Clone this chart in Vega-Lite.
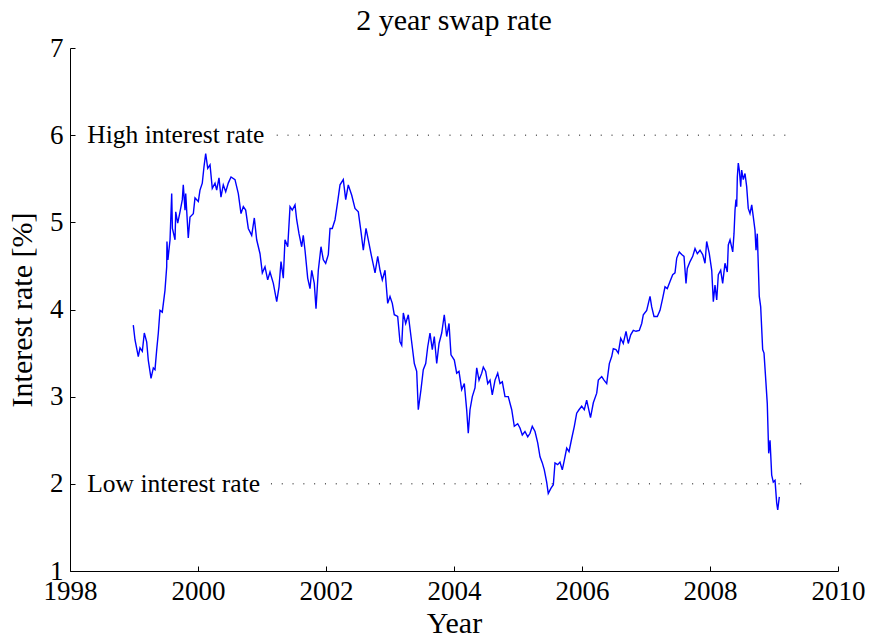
{
  "$schema": "https://vega.github.io/schema/vega-lite/v6.json",
  "width": 768,
  "height": 523,
  "autosize": {"type": "none"},
  "padding": {"left": 70, "top": 48, "right": 32, "bottom": 68},
  "background": "white",
  "config": {
    "view": {"stroke": null},
    "font": "Liberation Serif",
    "axis": {
      "domainColor": "#000",
      "domainWidth": 1,
      "tickColor": "#000",
      "tickWidth": 1,
      "grid": false,
      "labelFont": "Liberation Serif",
      "labelFontSize": 27,
      "labelColor": "#000",
      "titleFont": "Liberation Serif",
      "titleFontSize": 30,
      "titleFontWeight": "normal",
      "titleColor": "#000"
    }
  },
  "title": {
    "text": "2 year swap rate",
    "font": "Liberation Serif",
    "fontSize": 30,
    "fontWeight": "normal",
    "color": "#000",
    "anchor": "middle",
    "offset": -2
  },
  "datasets": {
    "swap": [
      {"year": 1998.989, "rate": 3.82}, {"year": 1999.016, "rate": 3.65}, {"year": 1999.067, "rate": 3.46},
      {"year": 1999.094, "rate": 3.56}, {"year": 1999.130, "rate": 3.52}, {"year": 1999.161, "rate": 3.73},
      {"year": 1999.198, "rate": 3.63}, {"year": 1999.223, "rate": 3.42}, {"year": 1999.266, "rate": 3.21},
      {"year": 1999.302, "rate": 3.33}, {"year": 1999.328, "rate": 3.31}, {"year": 1999.355, "rate": 3.54},
      {"year": 1999.380, "rate": 3.73}, {"year": 1999.406, "rate": 3.99}, {"year": 1999.442, "rate": 3.97},
      {"year": 1999.484, "rate": 4.22}, {"year": 1999.511, "rate": 4.49}, {"year": 1999.515, "rate": 4.78},
      {"year": 1999.530, "rate": 4.57}, {"year": 1999.563, "rate": 4.80}, {"year": 1999.589, "rate": 5.33},
      {"year": 1999.600, "rate": 4.93}, {"year": 1999.641, "rate": 4.80}, {"year": 1999.652, "rate": 5.12},
      {"year": 1999.683, "rate": 4.99}, {"year": 1999.719, "rate": 5.12}, {"year": 1999.755, "rate": 5.26},
      {"year": 1999.770, "rate": 5.43}, {"year": 1999.797, "rate": 5.14}, {"year": 1999.808, "rate": 5.33},
      {"year": 1999.848, "rate": 4.82}, {"year": 1999.875, "rate": 5.06}, {"year": 1999.927, "rate": 5.10},
      {"year": 1999.953, "rate": 5.28}, {"year": 2000.005, "rate": 5.24}, {"year": 2000.031, "rate": 5.37},
      {"year": 2000.067, "rate": 5.45}, {"year": 2000.094, "rate": 5.64}, {"year": 2000.120, "rate": 5.79},
      {"year": 2000.152, "rate": 5.62}, {"year": 2000.188, "rate": 5.66}, {"year": 2000.223, "rate": 5.39},
      {"year": 2000.266, "rate": 5.45}, {"year": 2000.292, "rate": 5.37}, {"year": 2000.328, "rate": 5.51},
      {"year": 2000.359, "rate": 5.29}, {"year": 2000.395, "rate": 5.43}, {"year": 2000.433, "rate": 5.35},
      {"year": 2000.473, "rate": 5.45}, {"year": 2000.516, "rate": 5.52}, {"year": 2000.578, "rate": 5.49},
      {"year": 2000.630, "rate": 5.33}, {"year": 2000.672, "rate": 5.10}, {"year": 2000.708, "rate": 5.18},
      {"year": 2000.745, "rate": 5.14}, {"year": 2000.786, "rate": 4.93}, {"year": 2000.839, "rate": 4.85},
      {"year": 2000.880, "rate": 5.05}, {"year": 2000.917, "rate": 4.80}, {"year": 2000.969, "rate": 4.64},
      {"year": 2001.005, "rate": 4.42}, {"year": 2001.047, "rate": 4.49}, {"year": 2001.089, "rate": 4.34},
      {"year": 2001.125, "rate": 4.43}, {"year": 2001.177, "rate": 4.30}, {"year": 2001.230, "rate": 4.09},
      {"year": 2001.266, "rate": 4.26}, {"year": 2001.297, "rate": 4.55}, {"year": 2001.333, "rate": 4.36},
      {"year": 2001.359, "rate": 4.80}, {"year": 2001.402, "rate": 4.72}, {"year": 2001.438, "rate": 5.18},
      {"year": 2001.473, "rate": 5.14}, {"year": 2001.516, "rate": 5.20}, {"year": 2001.542, "rate": 5.03},
      {"year": 2001.578, "rate": 4.87}, {"year": 2001.620, "rate": 4.72}, {"year": 2001.645, "rate": 4.85},
      {"year": 2001.672, "rate": 4.68}, {"year": 2001.714, "rate": 4.36}, {"year": 2001.750, "rate": 4.24},
      {"year": 2001.777, "rate": 4.45}, {"year": 2001.817, "rate": 4.30}, {"year": 2001.844, "rate": 4.01},
      {"year": 2001.880, "rate": 4.45}, {"year": 2001.922, "rate": 4.72}, {"year": 2001.958, "rate": 4.57},
      {"year": 2001.995, "rate": 4.53}, {"year": 2002.036, "rate": 4.63}, {"year": 2002.063, "rate": 4.93},
      {"year": 2002.098, "rate": 4.93}, {"year": 2002.141, "rate": 5.03}, {"year": 2002.183, "rate": 5.24},
      {"year": 2002.219, "rate": 5.43}, {"year": 2002.270, "rate": 5.49}, {"year": 2002.308, "rate": 5.26},
      {"year": 2002.348, "rate": 5.43}, {"year": 2002.402, "rate": 5.31}, {"year": 2002.453, "rate": 5.16},
      {"year": 2002.505, "rate": 5.12}, {"year": 2002.547, "rate": 4.89}, {"year": 2002.583, "rate": 4.68},
      {"year": 2002.625, "rate": 4.93}, {"year": 2002.661, "rate": 4.80}, {"year": 2002.703, "rate": 4.64},
      {"year": 2002.766, "rate": 4.42}, {"year": 2002.808, "rate": 4.61}, {"year": 2002.844, "rate": 4.45},
      {"year": 2002.880, "rate": 4.34}, {"year": 2002.922, "rate": 4.45}, {"year": 2002.964, "rate": 4.07},
      {"year": 2003.000, "rate": 4.15}, {"year": 2003.036, "rate": 4.07}, {"year": 2003.067, "rate": 3.94},
      {"year": 2003.120, "rate": 3.92}, {"year": 2003.156, "rate": 3.63}, {"year": 2003.183, "rate": 3.59},
      {"year": 2003.208, "rate": 3.96}, {"year": 2003.245, "rate": 3.84}, {"year": 2003.286, "rate": 3.94},
      {"year": 2003.328, "rate": 3.69}, {"year": 2003.380, "rate": 3.38}, {"year": 2003.417, "rate": 3.29},
      {"year": 2003.442, "rate": 2.85}, {"year": 2003.484, "rate": 3.08}, {"year": 2003.520, "rate": 3.31},
      {"year": 2003.558, "rate": 3.38}, {"year": 2003.589, "rate": 3.57}, {"year": 2003.625, "rate": 3.73},
      {"year": 2003.661, "rate": 3.54}, {"year": 2003.692, "rate": 3.69}, {"year": 2003.730, "rate": 3.38},
      {"year": 2003.766, "rate": 3.61}, {"year": 2003.808, "rate": 3.73}, {"year": 2003.848, "rate": 3.94},
      {"year": 2003.886, "rate": 3.69}, {"year": 2003.922, "rate": 3.84}, {"year": 2003.953, "rate": 3.48},
      {"year": 2004.005, "rate": 3.42}, {"year": 2004.042, "rate": 3.27}, {"year": 2004.078, "rate": 3.29},
      {"year": 2004.120, "rate": 3.08}, {"year": 2004.161, "rate": 3.15}, {"year": 2004.198, "rate": 2.85},
      {"year": 2004.223, "rate": 2.58}, {"year": 2004.250, "rate": 2.85}, {"year": 2004.286, "rate": 3.00},
      {"year": 2004.328, "rate": 3.10}, {"year": 2004.355, "rate": 3.33}, {"year": 2004.391, "rate": 3.19},
      {"year": 2004.433, "rate": 3.27}, {"year": 2004.458, "rate": 3.34}, {"year": 2004.495, "rate": 3.29},
      {"year": 2004.527, "rate": 3.15}, {"year": 2004.563, "rate": 3.19}, {"year": 2004.598, "rate": 3.02},
      {"year": 2004.641, "rate": 3.19}, {"year": 2004.683, "rate": 3.27}, {"year": 2004.719, "rate": 3.15},
      {"year": 2004.755, "rate": 3.17}, {"year": 2004.797, "rate": 3.00}, {"year": 2004.848, "rate": 3.00},
      {"year": 2004.902, "rate": 2.85}, {"year": 2004.942, "rate": 2.66}, {"year": 2004.995, "rate": 2.69},
      {"year": 2005.031, "rate": 2.64}, {"year": 2005.067, "rate": 2.56}, {"year": 2005.109, "rate": 2.60},
      {"year": 2005.152, "rate": 2.54}, {"year": 2005.188, "rate": 2.58}, {"year": 2005.223, "rate": 2.66},
      {"year": 2005.266, "rate": 2.60}, {"year": 2005.308, "rate": 2.47}, {"year": 2005.344, "rate": 2.31},
      {"year": 2005.380, "rate": 2.24}, {"year": 2005.411, "rate": 2.16}, {"year": 2005.448, "rate": 2.02},
      {"year": 2005.473, "rate": 1.89}, {"year": 2005.516, "rate": 1.95}, {"year": 2005.552, "rate": 1.99},
      {"year": 2005.578, "rate": 2.24}, {"year": 2005.620, "rate": 2.22}, {"year": 2005.656, "rate": 2.25},
      {"year": 2005.692, "rate": 2.16}, {"year": 2005.723, "rate": 2.27}, {"year": 2005.761, "rate": 2.41},
      {"year": 2005.797, "rate": 2.37}, {"year": 2005.839, "rate": 2.52}, {"year": 2005.880, "rate": 2.66},
      {"year": 2005.917, "rate": 2.81}, {"year": 2005.953, "rate": 2.85}, {"year": 2005.995, "rate": 2.89},
      {"year": 2006.036, "rate": 2.85}, {"year": 2006.073, "rate": 2.96}, {"year": 2006.133, "rate": 2.76},
      {"year": 2006.177, "rate": 2.93}, {"year": 2006.230, "rate": 3.04}, {"year": 2006.255, "rate": 3.19},
      {"year": 2006.308, "rate": 3.23}, {"year": 2006.344, "rate": 3.19}, {"year": 2006.386, "rate": 3.15},
      {"year": 2006.427, "rate": 3.38}, {"year": 2006.464, "rate": 3.46}, {"year": 2006.489, "rate": 3.55},
      {"year": 2006.531, "rate": 3.54}, {"year": 2006.567, "rate": 3.50}, {"year": 2006.605, "rate": 3.67},
      {"year": 2006.645, "rate": 3.61}, {"year": 2006.688, "rate": 3.75}, {"year": 2006.723, "rate": 3.61},
      {"year": 2006.761, "rate": 3.71}, {"year": 2006.802, "rate": 3.76}, {"year": 2006.844, "rate": 3.75},
      {"year": 2006.895, "rate": 3.76}, {"year": 2006.933, "rate": 3.84}, {"year": 2006.958, "rate": 3.94},
      {"year": 2007.011, "rate": 3.99}, {"year": 2007.063, "rate": 4.15}, {"year": 2007.089, "rate": 4.03},
      {"year": 2007.125, "rate": 3.92}, {"year": 2007.177, "rate": 3.92}, {"year": 2007.219, "rate": 3.99},
      {"year": 2007.261, "rate": 4.13}, {"year": 2007.297, "rate": 4.26}, {"year": 2007.333, "rate": 4.24},
      {"year": 2007.375, "rate": 4.32}, {"year": 2007.417, "rate": 4.40}, {"year": 2007.453, "rate": 4.42},
      {"year": 2007.480, "rate": 4.59}, {"year": 2007.520, "rate": 4.66}, {"year": 2007.558, "rate": 4.63},
      {"year": 2007.594, "rate": 4.61}, {"year": 2007.625, "rate": 4.30}, {"year": 2007.645, "rate": 4.47},
      {"year": 2007.688, "rate": 4.55}, {"year": 2007.730, "rate": 4.61}, {"year": 2007.766, "rate": 4.70},
      {"year": 2007.802, "rate": 4.64}, {"year": 2007.844, "rate": 4.68}, {"year": 2007.886, "rate": 4.63},
      {"year": 2007.922, "rate": 4.53}, {"year": 2007.948, "rate": 4.78}, {"year": 2007.989, "rate": 4.64},
      {"year": 2008.027, "rate": 4.45}, {"year": 2008.052, "rate": 4.09}, {"year": 2008.078, "rate": 4.28},
      {"year": 2008.105, "rate": 4.11}, {"year": 2008.130, "rate": 4.40}, {"year": 2008.167, "rate": 4.45},
      {"year": 2008.198, "rate": 4.30}, {"year": 2008.234, "rate": 4.53}, {"year": 2008.270, "rate": 4.43},
      {"year": 2008.286, "rate": 4.74}, {"year": 2008.313, "rate": 4.80}, {"year": 2008.355, "rate": 4.66},
      {"year": 2008.375, "rate": 4.87}, {"year": 2008.391, "rate": 5.14}, {"year": 2008.406, "rate": 5.26},
      {"year": 2008.417, "rate": 5.18}, {"year": 2008.427, "rate": 5.52}, {"year": 2008.442, "rate": 5.68},
      {"year": 2008.458, "rate": 5.60}, {"year": 2008.480, "rate": 5.41}, {"year": 2008.495, "rate": 5.60},
      {"year": 2008.520, "rate": 5.49}, {"year": 2008.547, "rate": 5.56}, {"year": 2008.573, "rate": 5.41},
      {"year": 2008.598, "rate": 5.16}, {"year": 2008.625, "rate": 5.10}, {"year": 2008.652, "rate": 5.20},
      {"year": 2008.677, "rate": 5.06}, {"year": 2008.703, "rate": 4.91}, {"year": 2008.719, "rate": 4.68},
      {"year": 2008.739, "rate": 4.87}, {"year": 2008.770, "rate": 4.15}, {"year": 2008.792, "rate": 4.03},
      {"year": 2008.823, "rate": 3.54}, {"year": 2008.844, "rate": 3.50}, {"year": 2008.875, "rate": 3.15},
      {"year": 2008.895, "rate": 2.92}, {"year": 2008.917, "rate": 2.35}, {"year": 2008.938, "rate": 2.50},
      {"year": 2008.964, "rate": 2.10}, {"year": 2008.989, "rate": 2.02}, {"year": 2009.016, "rate": 2.04},
      {"year": 2009.042, "rate": 1.78}, {"year": 2009.058, "rate": 1.70}, {"year": 2009.083, "rate": 1.85}
    ],
    "levels": [
      {"label": "High interest rate", "rate": 6, "start": 2001.23, "end": 2009.27, "labelYear": 1998.27},
      {"label": "Low interest rate", "rate": 2, "start": 2001.14, "end": 2009.5, "labelYear": 1998.27}
    ]
  },
  "layer": [
    {
      "data": {"name": "levels"},
      "mark": {"type": "rule", "color": "#000", "strokeWidth": 1, "strokeDash": [1, 9.8]},
      "encoding": {
        "x": {"field": "start", "type": "quantitative", "scale": {"domain": [1998, 2010], "nice": false, "zero": false}},
        "x2": {"field": "end"},
        "y": {"field": "rate", "type": "quantitative", "scale": {"domain": [1, 7], "nice": false, "zero": false}}
      }
    },
    {
      "data": {"name": "levels"},
      "mark": {"type": "text", "align": "left", "baseline": "middle", "font": "Liberation Serif", "fontSize": 25.5, "color": "#000"},
      "encoding": {
        "x": {"field": "labelYear", "type": "quantitative"},
        "y": {"field": "rate", "type": "quantitative"},
        "text": {"field": "label"}
      }
    },
    {
      "data": {"name": "swap"},
      "mark": {"type": "line", "color": "#0000ff", "strokeWidth": 1.4, "interpolate": "linear"},
      "encoding": {
        "x": {
          "field": "year", "type": "quantitative",
          "axis": {"title": "Year", "values": [1998, 2000, 2002, 2004, 2006, 2008, 2010], "format": "d", "tickSize": -5, "labelPadding": 12, "titlePadding": 4, "labelFlush": false, "labelOverlap": false}
        },
        "y": {
          "field": "rate", "type": "quantitative",
          "axis": {"title": "Interest rate [%]", "values": [1, 2, 3, 4, 5, 6, 7], "format": "d", "tickSize": -5, "labelPadding": 12, "titlePadding": 12, "labelFlush": false, "labelOverlap": false}
        }
      }
    }
  ]
}
